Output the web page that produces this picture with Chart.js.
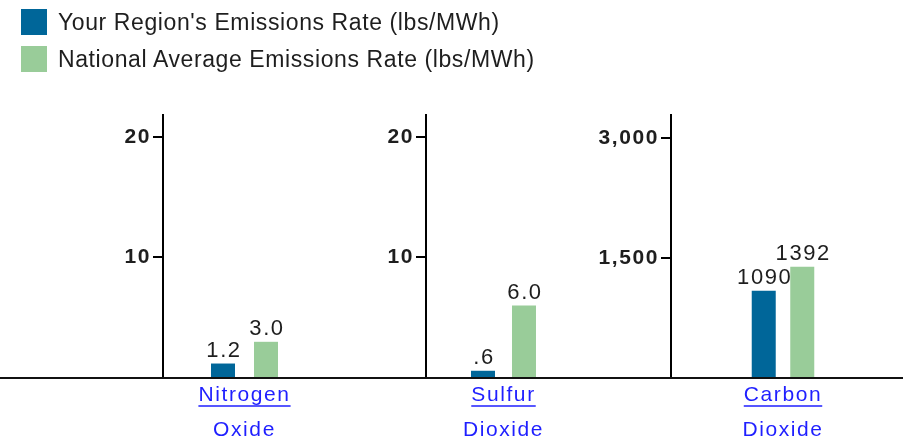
<!DOCTYPE html>
<html>
<head>
<meta charset="utf-8">
<script src="https://cdn.jsdelivr.net/npm/chart.js@4.4.1/dist/chart.umd.min.js"></script>
<style>
body { margin: 0; background: #fff; width: 906px; height: 443px; overflow: hidden; position: relative; font-family: "Liberation Sans", Arial, sans-serif; }
canvas { position: absolute; top: 0; }
.legend-item { position: absolute; left: 21px; height: 26px; display: flex; align-items: center; font-size: 23px; letter-spacing: 0.6px; color: #1e1e1e; white-space: nowrap; z-index: 2; }
.swatch { width: 26px; height: 26px; margin-right: 11px; }
</style>
</head>
<body>
<div class="legend-item" style="top:9px"><span class="swatch" style="background:#006699"></span><span id="legendRegion"></span></div>
<div class="legend-item" style="top:46px"><span class="swatch" style="background:#99cc99"></span><span id="legendNational"></span></div>
<canvas id="panel0" width="345" height="443" style="left:0px"></canvas>
<canvas id="panel1" width="255" height="443" style="left:345px"></canvas>
<canvas id="panel2" width="336" height="443" style="left:570px"></canvas>
<script>
//Chart data
const seriesNames = ["Your Region's Emissions Rate (lbs/MWh)", "National Average Emissions Rate (lbs/MWh)"];
const categories = [['Nitrogen', 'Oxide'], ['Sulfur', 'Dioxide'], ['Carbon', 'Dioxide']];
const regionRates = [1.2, 0.6, 1090];
const nationalRates = [3.0, 6.0, 1392];
const yTicks = [[10, 20], [10, 20], [1500, 3000]];
const yMax = [21.8, 21.8, 3290];

const fontFamily = '"Liberation Sans", Arial, sans-serif';
const regionColor = '#006699';
const nationalColor = '#99cc99';
const linkColor = '#1f1fff';
const textSpacing = '1.6px';

document.getElementById('legendRegion').textContent = seriesNames[0];
document.getElementById('legendNational').textContent = seriesNames[1];

//Panel layout: canvas left/width, y axis position, right edge of plot, bar spacing
var panels = [
    { left: 0, width: 345, axisX: 163, areaRight: 326, lineEnd: 345, catPct: 0.5276, barPct: 0.558 },
    { left: 345, width: 255, axisX: 426, areaRight: 581, lineEnd: 255, catPct: 0.529, barPct: 0.585 },
    { left: 570, width: 336, axisX: 671, areaRight: 895, lineEnd: 333, catPct: 0.344, barPct: 0.623 }
];

function formatValue (v) {
    if (v >= 100) return String(v);
    var s = v.toFixed(1);
    return v < 1 ? s.replace(/^0/, '') : s;
}

//Wider text, the original is a bit stretched
var spacing = {
    id: 'spacing',
    beforeInit: function (chart) { chart.ctx.letterSpacing = textSpacing; },
    beforeUpdate: function (chart) { chart.ctx.letterSpacing = textSpacing; },
    beforeDraw: function (chart) { chart.ctx.letterSpacing = textSpacing; }
};

//Numbers above the bars
var valueLabels = {
    id: 'valueLabels',
    afterDatasetsDraw: function (chart) {
        var ctx = chart.ctx;
        ctx.save();
        ctx.font = '22px ' + fontFamily;
        ctx.fillStyle = '#1e1e1e';
        ctx.textAlign = 'center';
        ctx.textBaseline = 'alphabetic';
        chart.data.datasets.forEach(function (ds, i) {
            chart.getDatasetMeta(i).data.forEach(function (bar, j) {
                ctx.fillText(formatValue(ds.data[j]), bar.x + 1, bar.y - 7);
            });
        });
        ctx.restore();
    }
};

//Baseline across the whole panel and link underline
var baseline = {
    id: 'baseline',
    afterDraw: function (chart) {
        var ctx = chart.ctx;
        var area = chart.chartArea;
        var xScale = chart.scales.x;
        ctx.save();
        ctx.strokeStyle = '#111';
        ctx.lineWidth = 2;
        ctx.beginPath();
        ctx.moveTo(0, area.bottom);
        ctx.lineTo(chart.options.baselineEnd, area.bottom);
        ctx.stroke();

        var label = chart.data.labels[0][0];
        ctx.font = '21px ' + fontFamily;
        var w = ctx.measureText(label).width;
        var x = xScale.getPixelForTick(0);
        ctx.strokeStyle = linkColor;
        ctx.lineWidth = 1.5;
        ctx.beginPath();
        ctx.moveTo(x - w / 2, area.bottom + 28);
        ctx.lineTo(x + w / 2, area.bottom + 28);
        ctx.stroke();
        ctx.restore();
    }
};

function makePanel (i) {
    var p = panels[i];
    return new Chart(document.getElementById('panel' + i), {
        type: 'bar',
        data: {
            labels: [categories[i]],
            datasets: [{
                label: seriesNames[0],
                data: [regionRates[i]],
                backgroundColor: regionColor,
                categoryPercentage: p.catPct,
                barPercentage: p.barPct
            }, {
                label: seriesNames[1],
                data: [nationalRates[i]],
                backgroundColor: nationalColor,
                categoryPercentage: p.catPct,
                barPercentage: p.barPct
            }]
        },
        options: {
            responsive: false,
            animation: false,
            devicePixelRatio: 1,
            baselineEnd: p.lineEnd,
            layout: {
                padding: { left: 0, right: p.width - (p.areaRight - p.left), top: 115, bottom: 0 }
            },
            plugins: {
                legend: { display: false },
                tooltip: { enabled: false }
            },
            scales: {
                x: {
                    afterFit: function (scale) { scale.height = 65; },
                    grid: { display: false, drawTicks: false },
                    border: { display: false },
                    ticks: {
                        color: linkColor,
                        padding: 0,
                        font: { family: fontFamily, size: 21, lineHeight: 35 / 21 }
                    }
                },
                y: {
                    min: 0,
                    max: yMax[i],
                    afterFit: function (scale) { scale.width = p.axisX - p.left; },
                    afterBuildTicks: function (scale) {
                        scale.ticks = yTicks[i].map(function (v) { return { value: v }; });
                    },
                    grid: { drawOnChartArea: false, drawTicks: true, tickLength: 10, color: '#000', lineWidth: 2 },
                    border: { color: '#000', width: 2 },
                    ticks: {
                        color: '#1e1e1e',
                        padding: 2,
                        font: { family: fontFamily, size: 21, weight: 'bold' },
                        callback: function (v) { return v.toLocaleString('en-US'); }
                    }
                }
            }
        },
        plugins: [spacing, valueLabels, baseline]
    });
}

var charts = panels.map(function (p, i) { return makePanel(i); });
</script>
</body>
</html>
